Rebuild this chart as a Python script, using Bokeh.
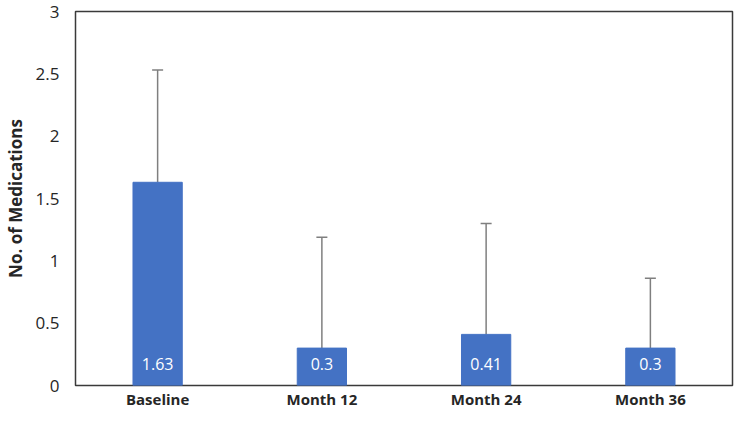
from bokeh.plotting import figure
from bokeh.models import ColumnDataSource, Whisker, TeeHead, FixedTicker, FactorRange, Range1d
from bokeh.core.properties import value
from bokeh.embed import file_html
from bokeh.resources import INLINE

categories = ["Baseline", "Month 12", "Month 24", "Month 36"]
means = [1.63, 0.30, 0.41, 0.30]
sds = [0.90, 0.89, 0.89, 0.56]
bar_labels = ["1.63", "0.3", "0.41", "0.3"]
y_ticks = [0, 0.5, 1, 1.5, 2, 2.5, 3]
y_tick_labels = ["0", "0.5", "1", "1.5", "2", "2.5", "3"]

upper = [m + s for m, s in zip(means, sds)]
src = ColumnDataSource(dict(cat=categories, mean=means, upper=upper, label=bar_labels,
                            zero=[0] * len(categories)))

FONT = "Open Sans"
p = figure(x_range=FactorRange(*categories, range_padding=0), y_range=Range1d(0, 3),
           width=734, height=411, output_backend="svg", toolbar_location=None,
           min_border_left=64, min_border_right=2, min_border_top=11, min_border_bottom=20)

p.vbar(x="cat", top="mean", width=0.30, source=src, fill_color="#4472C4", line_color="#4472C4")

w = Whisker(base="cat", upper="upper", lower="mean", source=src,
            line_color="#7F7F7F", line_width=1.5,
            upper_head=TeeHead(size=11, line_color="#7F7F7F", line_width=1.5), lower_head=None)
p.add_layout(w)

p.text(x="cat", y="zero", text="label", source=src, text_color="white",
       text_font=value(FONT), text_font_size="16px", text_align="center",
       text_baseline="middle", y_offset=-22)

p.outline_line_color = "#3A3A3A"
p.outline_line_width = 1.5
p.xgrid.visible = False
p.ygrid.visible = False

p.yaxis.ticker = FixedTicker(ticks=y_ticks)
p.yaxis.major_label_overrides = {t: l for t, l in zip(y_ticks, y_tick_labels)}
for ax in (p.xaxis, p.yaxis):
    ax.axis_line_color = None
    ax.major_tick_line_color = None
    ax.minor_tick_line_color = None
    ax.major_tick_out = 0
    ax.major_tick_in = 0
    ax.minor_tick_out = 0
    ax.minor_tick_in = 0
    ax.major_label_text_font = FONT
    ax.major_label_text_color = "#262626"

p.yaxis.major_label_text_font_size = "17px"
p.yaxis.major_label_standoff = 16
p.yaxis.axis_label = "No. of Medications"
p.yaxis.axis_label_text_font = FONT
p.yaxis.axis_label_text_font_style = "bold"
p.yaxis.axis_label_text_font_size = "17px"
p.yaxis.axis_label_text_color = "#262626"
p.yaxis.axis_label_standoff = 6

p.xaxis.major_label_text_font_size = "15px"
p.xaxis.major_label_text_font_style = "bold"
p.xaxis.major_label_standoff = 3

open("out.html", "w").write(file_html(p, INLINE))
